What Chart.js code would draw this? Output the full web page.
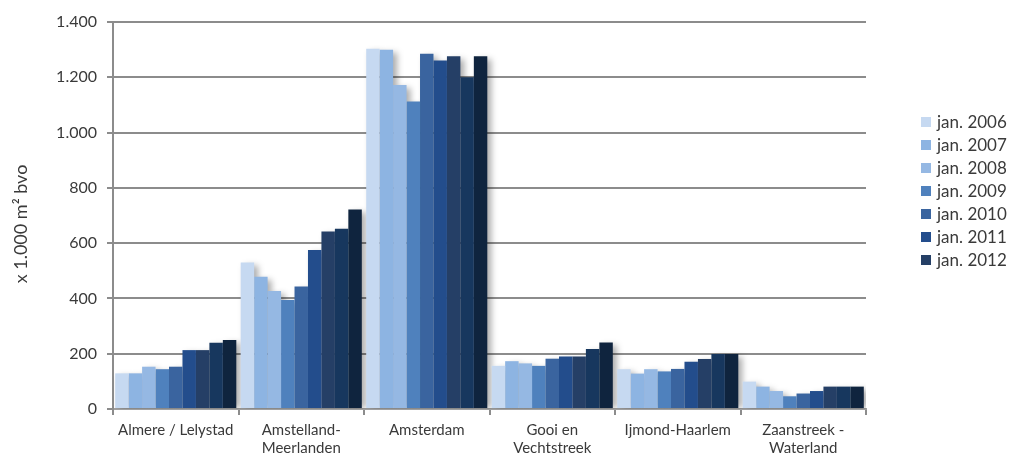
<!DOCTYPE html>
<html>
<head>
<meta charset="utf-8">
<script src="https://cdn.jsdelivr.net/npm/chart.js@4.4.1/dist/chart.umd.min.js"></script>
<style>
  html, body { margin: 0; padding: 0; background: #ffffff; }
  #wrap { width: 1011px; height: 456px; position: relative; }
</style>
</head>
<body>
<div id="wrap"><canvas id="c" width="1011" height="456"></canvas></div>
<script>
// Regions
const regions = [
  'Almere / Lelystad',
  ['Amstelland-', 'Meerlanden'],
  'Amsterdam',
  ['Gooi en', 'Vechtstreek'],
  'Ijmond-Haarlem',
  ['Zaanstreek -', 'Waterland']
];

// Stock per peildatum, x 1.000 m² bvo
const jan2006 = [129, 530, 1303, 156, 144, 99];
const jan2007 = [129, 478, 1300, 173, 128, 81];
const jan2008 = [153, 427, 1172, 165, 144, 65];
const jan2009 = [144, 394, 1112, 156, 136, 46];
const jan2010 = [153, 443, 1285, 182, 145, 56];
const jan2011 = [213, 575, 1261, 190, 171, 65];
const jan2012 = [213, 642, 1276, 190, 181, 81];
const jan2013 = [240, 652, 1200, 217, 199, 81];
const jan2014 = [250, 722, 1276, 241, 199, 81];

const seriesNames = ['jan. 2006', 'jan. 2007', 'jan. 2008', 'jan. 2009', 'jan. 2010',
                     'jan. 2011', 'jan. 2012', 'jan. 2013', 'jan. 2014'];
const seriesValues = [jan2006, jan2007, jan2008, jan2009, jan2010, jan2011, jan2012, jan2013, jan2014];
const seriesColors = ['#c6d9f1', '#8db4e2', '#95b8e3', '#4f81bd', '#3a649f',
                      '#234d8c', '#253f66', '#17375e', '#0f243e'];

const yTicks = [0, 200, 400, 600, 800, 1000, 1200, 1400];
const yTitle = 'x 1.000 m² bvo';
const legendCount = 7;

const FONT = 'Lato';
const TEXT = '#3a3a3a';
const GRID = '#8c8c8c';

function fmt(v) {
  return String(v).replace(/\B(?=(\d{3})+(?!\d))/g, '.');
}

// soft shadow under each bar, drawn before the bars themselves
const barShadow = {
  id: 'barShadow',
  beforeDatasetsDraw(chart) {
    const ctx = chart.ctx;
    const a = chart.chartArea;
    ctx.save();
    ctx.beginPath();
    ctx.rect(a.left, a.top - 10, a.right - a.left, a.bottom - a.top + 10);
    ctx.clip();
    ctx.filter = 'blur(3px)';
    ctx.fillStyle = 'rgba(0,0,0,0.32)';
    chart.data.datasets.forEach((ds, i) => {
      chart.getDatasetMeta(i).data.forEach(bar => {
        const p = bar.getProps(['x', 'y', 'base', 'width'], true);
        ctx.fillRect(p.x - p.width / 2 + 4, p.y + 3, p.width, p.base - p.y - 3);
      });
    });
    ctx.restore();
  }
};

// legend on the right, listing the first series, plus the rotated unit label
const sideText = {
  id: 'sideText',
  afterDraw(chart) {
    const ctx = chart.ctx;
    ctx.save();
    ctx.font = '17px ' + FONT;
    ctx.textBaseline = 'middle';
    ctx.textAlign = 'left';
    for (let i = 0; i < legendCount; i++) {
      const ds = chart.data.datasets[i];
      const y = 122 + i * 23;
      ctx.fillStyle = ds.backgroundColor;
      ctx.fillRect(921, y - 5, 10, 10);
      ctx.fillStyle = TEXT;
      ctx.fillText(ds.label, 937, y + 1);
    }
    ctx.restore();

    ctx.save();
    ctx.translate(21, 224);
    ctx.rotate(-Math.PI / 2);
    ctx.font = '18px ' + FONT;
    ctx.fillStyle = TEXT;
    ctx.textAlign = 'center';
    ctx.textBaseline = 'middle';
    ctx.fillText(yTitle, 0, 0);
    ctx.restore();
  }
};

new Chart(document.getElementById('c'), {
  type: 'bar',
  data: {
    labels: regions,
    datasets: seriesNames.map((name, i) => ({
      label: name,
      data: seriesValues[i],
      backgroundColor: seriesColors[i],
      borderWidth: 0,
      categoryPercentage: 0.965,
      barPercentage: 1.0
    }))
  },
  options: {
    responsive: false,
    animation: false,
    layout: { padding: { top: 22, right: 145, bottom: 0, left: 0 } },
    plugins: {
      legend: { display: false },
      tooltip: { enabled: false },
      title: { display: false }
    },
    scales: {
      x: {
        offset: true,
        grid: {
          offset: true,
          drawOnChartArea: false,
          drawTicks: true,
          tickLength: 6,
          color: GRID,
          lineWidth: 2
        },
        border: { display: true, color: '#a0a0a0', width: 2 },
        ticks: {
          color: TEXT,
          font: { family: FONT, size: 15 },
          padding: 6,
          maxRotation: 0,
          autoSkip: false
        },
        afterFit(s) { s.height = 47; }
      },
      y: {
        min: 0,
        max: 1400,
        afterBuildTicks(s) { s.ticks = yTicks.map(v => ({ value: v })); },
        grid: {
          color: GRID,
          lineWidth: 2,
          drawTicks: true,
          tickLength: 6
        },
        border: { display: true, color: GRID, width: 2 },
        ticks: {
          color: TEXT,
          font: { family: FONT, size: 16 },
          padding: 10,
          callback: v => fmt(v)
        },
        afterFit(s) { s.width = 113; }
      }
    }
  },
  plugins: [barShadow, sideText]
});
</script>
</body>
</html>
